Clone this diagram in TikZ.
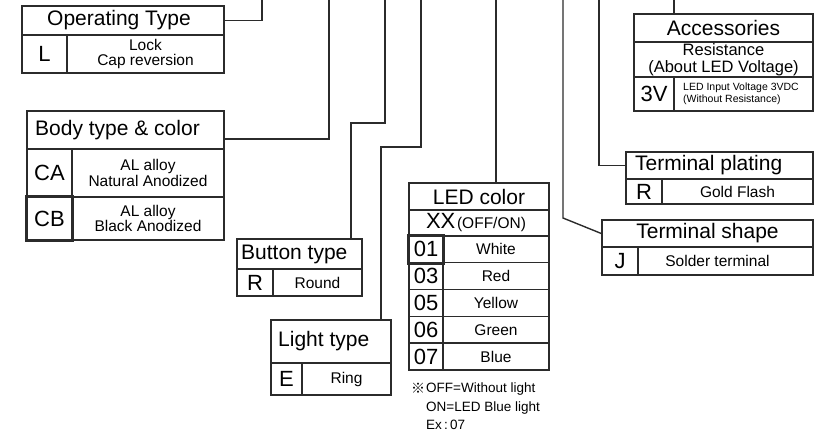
\documentclass[tikz,border=0pt]{standalone}
\usepackage{fontspec}
\setmainfont{Liberation Sans}
\newfontfamily\markfont{Noto Sans CJK JP}
\usetikzlibrary{fit}
\definecolor{linecolor}{HTML}{2B2B2B}
\newcommand{\OptHeadFont}{\fontsize{21pt}{21pt}\selectfont}
\newcommand{\OptCodeFont}{\fontsize{22pt}{22pt}\selectfont}
\newcommand{\OptDescFont}{\fontsize{15.5pt}{15.5pt}\selectfont}
\newcommand{\OptTinyFont}{\fontsize{10.5pt}{12pt}\selectfont}
\newcommand{\OptNoteFont}{\fontsize{13.5pt}{18.5pt}\selectfont}
\tikzset{
  opt cell/.style={draw=linecolor, line width=1.4pt, inner sep=0pt},
  opt text/.style={inner sep=0pt, align=center},
  opt head/.style={opt text, font=\OptHeadFont},
  opt code/.style={opt text, font=\OptCodeFont},
  opt desc/.style={opt text, font=\OptDescFont},
  opt mark/.style={draw=linecolor, line width=2.8pt, inner sep=0pt},
  opt link/.style={draw=linecolor, line width=1.4pt},
  opt label/.style={inner sep=0pt, anchor=west, font=\OptHeadFont}
}
\begin{document}
\begin{tikzpicture}[x=1pt, y=-1pt]
  \useasboundingbox (0,0) rectangle (814,435);

  % operating type
  \node[opt cell, fit={(22,6)(224,35)}] (op-head) {};
  \node[opt cell, fit={(22,35)(67,73)}] (op-code) {};
  \node[opt cell, fit={(67,35)(224,73)}] (op-desc) {};
  \node[opt head] (op-head-txt) at ([xshift=-4pt]op-head.center) {Operating Type};
  \node[opt code] (op-code-txt) at (op-code) {L};
  \node[opt desc] (op-desc-txt) at (op-desc) {Lock\\Cap reversion};
  \coordinate (op-top) at (262,0);
  \draw[opt link] (op-head.east) -| (op-top);

  % body type & color
  \node[opt cell, fit={(27,111)(224,149)}] (body-head) {};
  \node[opt label] (body-title) at (35,130) {Body type \& color};
  \foreach \code/\name/\ytop/\ybot [count=\i] in {CA/Natural/149/197,CB/Black/197/240} {
    \node[opt cell, fit={(27,\ytop)(72,\ybot)}] (body-code-\i) {};
    \node[opt cell, fit={(72,\ytop)(224,\ybot)}] (body-desc-\i) {};
    \node[opt code] (body-code-txt-\i) at (body-code-\i) {\code};
    \node[opt desc] (body-desc-txt-\i) at (body-desc-\i) {AL alloy\\\name\ Anodized};
  }
  \node[opt mark, fit=(body-code-2)] (body-pick) {};
  \coordinate (body-top) at (329,0);
  \draw[opt link] ([yshift=-9pt]body-head.east) -| (body-top);

  % button type
  \node[opt cell, fit={(237,239)(362,269)}] (btn-head) {};
  \node[opt label] (btn-title) at (241,254) {Button type};
  \node[opt cell, fit={(237,269)(273,296)}] (btn-code) {};
  \node[opt cell, fit={(273,269)(362,296)}] (btn-desc) {};
  \node[opt code] (btn-code-txt) at (btn-code) {R};
  \node[opt desc] (btn-desc-txt) at (btn-desc) {Round};
  \coordinate (btn-bend) at (385,123);
  \coordinate (btn-top) at (385,0);
  \draw[opt link] ([xshift=51.5pt]btn-head.north) |- (btn-bend) -- (btn-top);

  % light type
  \node[opt cell, fit={(271,320)(391,363)}] (light-head) {};
  \node[opt label] (light-title) at (278,341.5) {Light type};
  \node[opt cell, fit={(271,363)(302,395)}] (light-code) {};
  \node[opt cell, fit={(302,363)(391,395)}] (light-desc) {};
  \node[opt code] (light-code-txt) at (light-code) {E};
  \node[opt desc] (light-desc-txt) at (light-desc) {Ring};
  \coordinate (light-bend) at (421,147);
  \coordinate (light-top) at (421,0);
  \draw[opt link] ([xshift=50pt]light-head.north) |- (light-bend) -- (light-top);

  % LED color
  \node[opt cell, fit={(409,183)(549,210)}] (led-head) {};
  \node[opt cell, fit={(409,210)(549,236)}] (led-mode) {};
  \node[opt head] (led-head-txt) at (led-head) {LED color};
  \node[opt text] (led-mode-txt) at ([xshift=-3pt]led-mode.center) {{\OptCodeFont XX}\,{\OptDescFont (OFF/ON)}};
  \foreach \code/\name [count=\i] in {01/White,03/Red,05/Yellow,06/Green,07/Blue} {
    \pgfmathsetmacro{\ytop}{236+(\i-1)*26.8}
    \pgfmathsetmacro{\ybot}{\ytop+26.8}
    \node[opt cell, fit={(409,\ytop)(443,\ybot)}] (led-code-\i) {};
    \node[opt cell, fit={(443,\ytop)(549,\ybot)}] (led-name-\i) {};
    \node[opt code] (led-code-txt-\i) at (led-code-\i) {\code};
    \node[opt desc] (led-name-txt-\i) at (led-name-\i) {\name};
  }
  \node[opt mark, fit=(led-code-1)] (led-pick) {};
  \coordinate (led-top) at (496,0);
  \draw[opt link] (led-head.north -| led-top) -- (led-top);
  \node[inner sep=0pt, anchor=west, font=\fontsize{14pt}{14pt}\selectfont] (note-mark) at (411,388) {\markfont ※};
  \node[inner sep=0pt, anchor=north west, align=left, font=\OptNoteFont] (note-text) at (426,383)
    {OFF=Without light\\ON=LED Blue light\\Ex\,:\,07};

  % terminal shape
  \node[opt cell, fit={(602,220)(813,247)}] (tshape-head) {};
  \node[opt cell, fit={(602,247)(638,275)}] (tshape-code) {};
  \node[opt cell, fit={(638,247)(813,275)}] (tshape-desc) {};
  \node[opt head] (tshape-head-txt) at (tshape-head) {Terminal shape};
  \node[opt code] (tshape-code-txt) at (tshape-code) {J};
  \node[opt desc] (tshape-desc-txt) at ([xshift=-8pt]tshape-desc.center) {Solder terminal};
  \coordinate (tshape-bend) at (563,218);
  \coordinate (tshape-top) at (563,0);
  \draw[opt link] (tshape-top) -- (tshape-bend) -- (tshape-head.west);

  % terminal plating
  \node[opt cell, fit={(626,152)(813,179)}] (tplate-head) {};
  \node[opt label] (tplate-title) at (635,165.5) {Terminal plating};
  \node[opt cell, fit={(626,179)(662,204)}] (tplate-code) {};
  \node[opt cell, fit={(662,179)(813,204)}] (tplate-desc) {};
  \node[opt code] (tplate-code-txt) at (tplate-code) {R};
  \node[opt desc] (tplate-desc-txt) at (tplate-desc) {Gold Flash};
  \coordinate (tplate-top) at (599,0);
  \draw[opt link] (tplate-head.west) -| (tplate-top);

  % accessories
  \node[opt cell, fit={(634,14)(813,42)}] (acc-head) {};
  \node[opt cell, fit={(634,42)(813,77)}] (acc-res) {};
  \node[opt cell, fit={(634,77)(674,111)}] (acc-code) {};
  \node[opt cell, fit={(674,77)(813,111)}] (acc-desc) {};
  \node[opt head] (acc-head-txt) at (acc-head) {Accessories};
  \node[opt text, font=\fontsize{16.5pt}{17pt}\selectfont] (acc-res-txt) at (acc-res)
    {Resistance\\(About LED Voltage)};
  \node[opt code] (acc-code-txt) at (acc-code) {3V};
  \node[inner sep=0pt, anchor=west, align=left, font=\OptTinyFont] (acc-note) at (683,94)
    {LED Input Voltage 3VDC\\(Without Resistance)};
  \coordinate (acc-top) at (674,0);
  \draw[opt link] (acc-head.north -| acc-top) -- (acc-top);
\end{tikzpicture}
\end{document}
